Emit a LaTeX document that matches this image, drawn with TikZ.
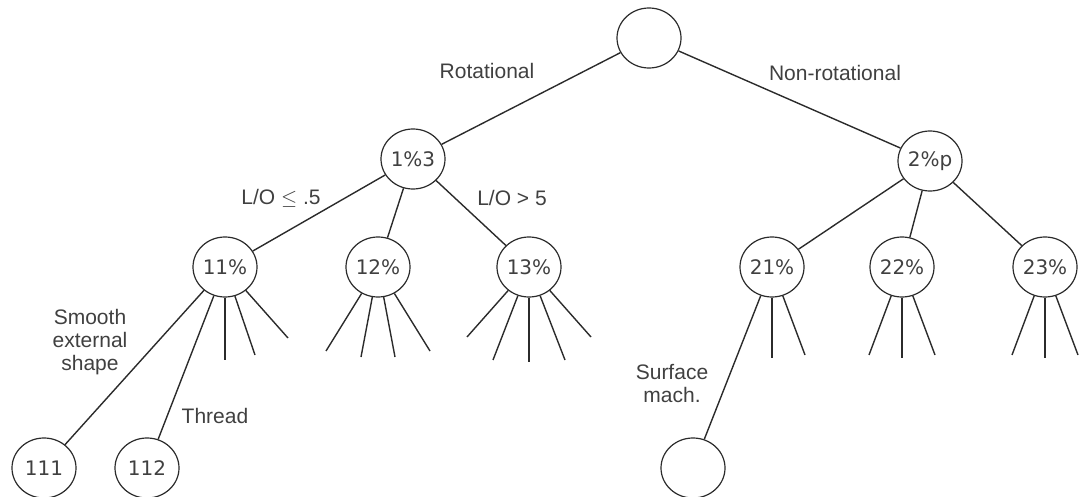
\documentclass[tikz,border=0pt]{standalone}
\usepackage{fontspec}
\setmainfont{Liberation Serif}
\setsansfont{Liberation Sans}
\newfontfamily\knotfont{DejaVu Sans}
\usetikzlibrary{calc,shapes.geometric}
\definecolor{ink}{HTML}{2B2B2B}

\begin{document}
\begin{tikzpicture}[x=1pt, y=-1pt,
  knot/.style={ellipse, draw=ink, line width=1.2pt, minimum width=64pt, minimum height=60pt, inner sep=0pt, font=\knotfont\fontsize{20}{20}\selectfont, text=ink!90},
  edge/.style={draw=ink, line width=1.4pt},
  lbl/.style={font=\sffamily\fontsize{21}{23}\selectfont, text=ink!90, align=center}
]
  \useasboundingbox (0,0) rectangle (1079,497);
  % nodes
  \node[knot] (root) at (649,38) {};
  \node[knot] (n1) at (413,159) {1\%3};
  \node[knot] (n2) at (930,161) {2\%p};
  \node[knot] (n11) at (225,267) {11\%};
  \node[knot] (n12) at (378,267) {12\%};
  \node[knot] (n13) at (529,267) {13\%};
  \node[knot] (n21) at (772,267) {21\%};
  \node[knot] (n22) at (902,267) {22\%};
  \node[knot] (n23) at (1045,267) {23\%};
  \node[knot] (n111) at (44,468) {111};
  \node[knot] (n112) at (147,468) {112};
  \node[knot] (n211) at (693,468) {};
  % connectors
  \draw[edge] (root) -- (n1);
  \draw[edge] (root) -- (n2);
  \draw[edge] (n1) -- (n11);
  \draw[edge] (n1) -- (n12);
  \draw[edge] (n1) -- (n13);
  \draw[edge] (n2) -- (n21);
  \draw[edge] (n2) -- (n22);
  \draw[edge] (n2) -- (n23);
  \draw[edge] (n11) -- (n111);
  \draw[edge] (n11) -- (n112);
  \draw[edge] (n21) -- (n211);
  % open branches
  \foreach \p/\offs in {n11/{0/93,30/88,63/71},
                        n12/{-52/84,-17/90,17/90,52/84},
                        n13/{-62/70,-36/93,0/95,36/93,62/70},
                        n21/{0/91,33/88},
                        n22/{-33/88,0/91,33/88},
                        n23/{-33/88,0/91,33/88}} {
    \foreach \dx/\dy [count=\k] in \offs {
      \coordinate (\p-\k) at ($(\p)+(\dx,\dy)$);
      \draw[edge] (\p) -- (\p-\k);
    }
  }
  % labels
  \node[lbl] (rotlbl) at (487,71) {Rotational};
  \node[lbl] (nonrotlbl) at (835,73) {Non-rotational};
  \node[lbl] (lole) at (281,198) {L/O $\leq$ .5};
  \node[lbl] (logt) at (512,198) {L/O > 5};
  \node[lbl] (smooth) at (90,342) {Smooth\\external\\shape};
  \node[lbl] (thread) at (215,416) {Thread};
  \node[lbl] (surf) at (672,384) {Surface\\mach.};
\end{tikzpicture}
\end{document}
